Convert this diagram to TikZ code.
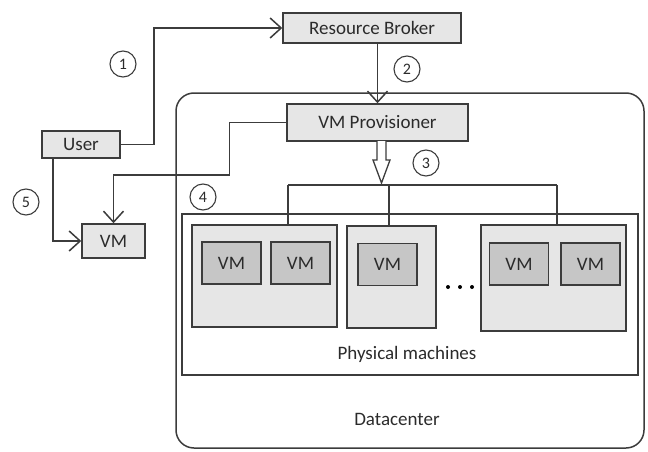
\documentclass[tikz,border=0pt]{standalone}
\usepackage{fontspec}
\setmainfont{Carlito}
\usepackage{xcolor}
\usetikzlibrary{arrows.meta}

\definecolor{linegray}{HTML}{3C3C3C}
\definecolor{boxgray}{HTML}{E6E6E6}
\definecolor{vmgray}{HTML}{C6C6C6}
\definecolor{txtgray}{HTML}{2B2B2B}

\begin{document}
\begin{tikzpicture}[x=1pt, y=-1pt,
        font=\fontsize{19}{21}\selectfont, text=txtgray,
        box/.style={draw=linegray, fill=boxgray, line width=1.5pt, inner sep=0pt},
        vmbox/.style={box, fill=vmgray, minimum width=59pt, minimum height=42pt},
        num/.style={draw=linegray, circle, line width=1.1pt, minimum size=26pt, inner sep=0pt, font=\fontsize{16}{17}\selectfont},
        link/.style={draw=linegray, line width=1.5pt, -{Straight Barb[length=11pt,width=20pt]}},
        wire/.style={draw=linegray, line width=1.5pt}]
        \useasboundingbox (0,0) rectangle (648,452);

        % datacenter and physical machine area
        \draw[wire, rounded corners=18pt] (176,93) rectangle (644,448);
        \node (dclabel) at (397,419) {Datacenter};
        \node[box, fill=white, minimum width=456pt, minimum height=161pt] (pmarea) at (410,294.5) {};
        \node (pmlabel) at (407,354) {Physical machines};

        % boxes
        \node[box, minimum width=178pt, minimum height=30pt] (broker) at (372,28) {Resource Broker};
        \node[box, minimum width=181pt, minimum height=37pt] (prov) at (377.5,122.5) {VM Provisioner};
        \node[box, minimum width=78pt, minimum height=27pt] (user) at (81,144.5) {User};
        \node[box, minimum width=63pt, minimum height=34pt] (vm) at (113.5,241) {VM};

        \node[box, minimum width=145pt, minimum height=102pt] (pm1) at (264.5,276) {};
        \node[box, minimum width=89pt, minimum height=102pt] (pm2) at (391.5,277) {};
        \node[box, minimum width=145pt, minimum height=106pt] (pm3) at (553.5,278) {};

        \node[vmbox] (vma) at (231.5,263) {VM};
        \node[vmbox] (vmb) at (300.5,263) {VM};
        \node[vmbox] (vmc) at (387.5,264.5) {VM};
        \node[vmbox] (vmd) at (519,264) {VM};
        \node[vmbox] (vme) at (590.5,264) {VM};

        \fill[black] (448,287) circle (2pt);
        \fill[black] (460,287) circle (2pt);
        \fill[black] (472,287) circle (2pt);

        % step numbers
        \node[num] (n1) at (123,64) {1};
        \node[num] (n2) at (407,69) {2};
        \node[num] (n3) at (426,163) {3};
        \node[num] (n4) at (203,197) {4};
        \node[num] (n5) at (26,202) {5};

        % connectors
        \draw[link] (user.east) -- ++(33,0) |- (broker.west);
        \draw[link] (broker.south -| prov.north) -- (prov.north);
        \draw[link] (prov.west) -- ++(-57,0) -- ++(0,52.5) -| (vm.north);
        \draw[link] ([xshift=-28pt]user.south) |- (vm.west);

        % bus to physical machines
        \coordinate (busl) at (288,185);
        \coordinate (busr) at (557,185);
        \draw[wire] (busl) -- (busr);
        \draw[wire] (busl) -- (busl |- pm1.north);
        \draw[wire] ([xshift=-2.5pt]pm2.north |- busl) -- ([xshift=-2.5pt]pm2.north);
        \draw[wire] (busr) -- (busr |- pm3.north);

        % hollow arrow
        \coordinate (h) at (381.5,141);
        \draw[wire, line width=1.3pt, fill=white] (h) ++(-4.5,0) -- ++(0,19) -- ++(-4,0)
            -- ++(8.5,23) -- ++(8.5,-23) -- ++(-4,0) -- ++(0,-19);
\end{tikzpicture}
\end{document}
